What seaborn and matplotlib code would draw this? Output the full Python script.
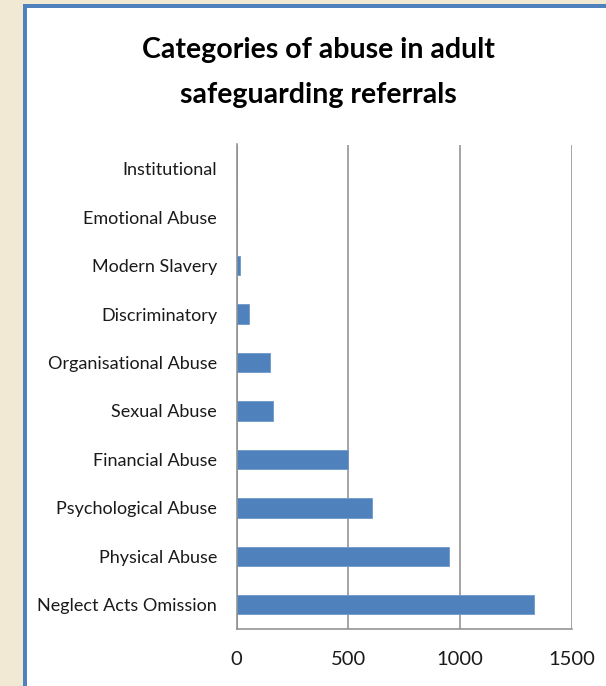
import matplotlib
matplotlib.use("Agg")
import matplotlib.pyplot as plt
from matplotlib.patches import Rectangle
import seaborn as sns
import pandas as pd

# Referral counts by abuse category (top to bottom as drawn)
categories = [
    "Institutional",
    "Emotional Abuse",
    "Modern Slavery",
    "Discriminatory",
    "Organisational Abuse",
    "Sexual Abuse",
    "Financial Abuse",
    "Psychological Abuse",
    "Physical Abuse",
    "Neglect Acts Omission",
]
referrals = [0, 0, 17, 56, 148, 164, 497, 606, 949, 1333]
x_ticks = [0, 500, 1000, 1500]

title_lines = ["Categories of abuse in adult", "safeguarding referrals"]

df = pd.DataFrame({"category": categories, "referrals": referrals})

sns.set_theme(style="white")
plt.rcParams["font.family"] = ["Lato", "DejaVu Sans"]

W, H = 606, 686
fig = plt.figure(figsize=(W / 100, H / 100), dpi=100)
fig.patch.set_facecolor("#f1e9d3")

# Blue frame and white panel
fig.add_artist(Rectangle((23 / W, 0), 1, (H - 4) / H, transform=fig.transFigure,
                         facecolor="#4f81bd", edgecolor="none", zorder=0))
fig.add_artist(Rectangle((27 / W, 0), 1, (H - 8) / H, transform=fig.transFigure,
                         facecolor="white", edgecolor="none", zorder=0))

ax = fig.add_axes([236.5 / W, 1 - 629 / H, 335.2 / W, 484.5 / H])
ax.set_facecolor("none")

sns.barplot(data=df, x="referrals", y="category", order=categories,
            orient="h", color="#4f81bd", saturation=1, width=0.4,
            edgecolor="#6f97c9", linewidth=0.6, ax=ax)

ax.set_xlim(0, 1500)
ax.set_xticks(x_ticks)
ax.set_xticklabels([str(t) for t in x_ticks])
ax.set_xlabel("")
ax.set_ylabel("")
ax.xaxis.grid(True, color="#8c8c8c", linewidth=1.1)
ax.set_axisbelow(True)
for side in ["top", "right"]:
    ax.spines[side].set_visible(False)
for side in ["left", "bottom"]:
    ax.spines[side].set_color("#8c8c8c")
    ax.spines[side].set_linewidth(1.1)
ax.tick_params(axis="both", length=0, labelcolor="#1a1a1a")
ax.tick_params(axis="y", pad=14, labelsize=13)
ax.tick_params(axis="x", pad=16, labelsize=14.5)

fig.text(318 / W, 1 - 50 / H, title_lines[0], ha="center", va="center",
         fontsize=20.5, fontweight="bold", color="black")
fig.text(318 / W, 1 - 95 / H, title_lines[1], ha="center", va="center",
         fontsize=20.5, fontweight="bold", color="black")

fig.savefig("out.png", dpi=100, facecolor=fig.get_facecolor())
